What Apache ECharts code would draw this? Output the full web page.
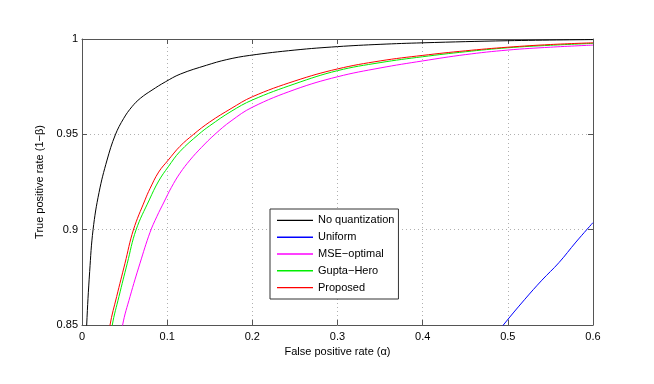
<!DOCTYPE html>
<html>
<head>
<meta charset="utf-8">
<script src="https://cdn.jsdelivr.net/npm/echarts@6/dist/echarts.min.js"></script>
<style>html,body{margin:0;padding:0;background:#fff}#c{width:654px;height:384px}</style>
</head>
<body>
<div id="c"></div>
<script>
var seriesNames = ['No quantization', 'Uniform', 'MSE\u2212optimal', 'Gupta\u2212Hero', 'Proposed'];
var seriesColors = ['#000000', '#0000ff', '#ff00ff', '#00ee00', '#ff0000'];

var noQuantFpr = [0.003, 0.0055, 0.009, 0.013, 0.02, 0.0294, 0.0391, 0.049, 0.0587, 0.0685, 0.0822, 0.0978, 0.1154, 0.146, 0.17, 0.197, 0.25, 0.3, 0.35, 0.4, 0.5, 0.6];
var noQuantTpr = [0.82, 0.85, 0.878, 0.90, 0.9195, 0.9365, 0.9497, 0.9584, 0.9645, 0.9689, 0.9732, 0.9775, 0.9816, 0.9862, 0.9892, 0.9914, 0.9942, 0.996, 0.9972, 0.998, 0.9991, 0.9997];

var uniformFpr = [0.49, 0.4947, 0.52, 0.54, 0.56, 0.58, 0.6];
var uniformTpr = [0.847, 0.85, 0.8635, 0.8735, 0.8827, 0.8935, 0.9037];

var mseFpr = [0.045, 0.0477, 0.0564, 0.0681, 0.0798, 0.088, 0.0963, 0.105, 0.115, 0.1268, 0.14, 0.156, 0.175, 0.2, 0.25, 0.3, 0.35, 0.4, 0.45, 0.5, 0.55, 0.6];
var mseTpr = [0.838, 0.85, 0.8649, 0.8824, 0.8985, 0.907, 0.9145, 0.9222, 0.9296, 0.9365, 0.943, 0.95, 0.957, 0.9642, 0.9735, 0.9802, 0.9848, 0.9885, 0.9918, 0.9942, 0.9957, 0.9968];

var guptaFpr = [0.033, 0.0356, 0.0434, 0.0532, 0.0634, 0.079, 0.09, 0.1013, 0.115, 0.137, 0.15, 0.175, 0.2, 0.25, 0.3, 0.35, 0.4, 0.45, 0.5, 0.55, 0.6];
var guptaTpr = [0.838, 0.85, 0.8649, 0.8824, 0.8998, 0.9156, 0.9255, 0.933, 0.941, 0.95, 0.9545, 0.962, 0.968, 0.9765, 0.9834, 0.9876, 0.9907, 0.9933, 0.9954, 0.9967, 0.9977];

var proposedFpr = [0.03, 0.0329, 0.0407, 0.0505, 0.0603, 0.074, 0.0798, 0.09, 0.1013, 0.115, 0.131, 0.15, 0.175, 0.2, 0.25, 0.3, 0.35, 0.4, 0.45, 0.5, 0.55, 0.6];
var proposedTpr = [0.838, 0.85, 0.8649, 0.8824, 0.8998, 0.9156, 0.9215, 0.9302, 0.9365, 0.9437, 0.95, 0.9565, 0.9635, 0.9697, 0.978, 0.9843, 0.9885, 0.9914, 0.9938, 0.9957, 0.9971, 0.998];

var xTicks = [0, 0.1, 0.2, 0.3, 0.4, 0.5, 0.6];
var yTicks = [0.85, 0.9, 0.95, 1];

function pairs(xs, ys) { return xs.map(function (x, i) { return [x, ys[i]]; }); }
var allX = [noQuantFpr, uniformFpr, mseFpr, guptaFpr, proposedFpr];
var allY = [noQuantTpr, uniformTpr, mseTpr, guptaTpr, proposedTpr];

var font = 'Liberation Sans, Arial, Helvetica, sans-serif';
var axisColor = '#555';
var gridLine = { show: true, lineStyle: { color: '#b0b0b0', type: [1, 3], width: 1 } };

var chart = echarts.init(document.getElementById('c'), null, { renderer: 'canvas' });
chart.setOption({
  animation: false,
  backgroundColor: '#fff',
  textStyle: { fontFamily: font },
  grid: { left: 82, right: 61, top: 39, bottom: 59, show: false },
  legend: {
    show: true,
    z: 20,
    data: seriesNames.map(function (n, i) {
      return { name: n, itemStyle: { color: seriesColors[i], borderWidth: 0, opacity: 1 } };
    }),
    icon: 'path://M0,0H36V1.4H0Z',
    symbolKeepAspect: true,
    orient: 'vertical',
    left: 270, top: 209,
    padding: [3, 4, 3, 7],
    backgroundColor: '#fff',
    borderColor: '#333', borderWidth: 1, borderRadius: 0,
    itemWidth: 36, itemHeight: 14, itemGap: 0,
    textStyle: { fontSize: 11, color: '#000', fontFamily: font, lineHeight: 16.8 }
  },
  xAxis: [{
    type: 'value', min: xTicks[0], max: xTicks[xTicks.length - 1], interval: 0.1,
    position: 'bottom',
    name: 'False positive rate (\u03b1)', nameLocation: 'middle', nameGap: 19,
    nameTextStyle: { fontSize: 11, color: '#000', fontFamily: font },
    axisLine: { show: true, onZero: false, lineStyle: { color: axisColor, width: 1 } },
    axisTick: { show: true, inside: true, length: 5, lineStyle: { color: axisColor } },
    axisLabel: { fontSize: 11, color: '#000', margin: 6, fontFamily: font },
    splitLine: gridLine
  }, {
    type: 'value', min: xTicks[0], max: xTicks[xTicks.length - 1], interval: 0.1,
    position: 'top',
    axisLine: { show: true, onZero: false, lineStyle: { color: axisColor, width: 1 } },
    axisTick: { show: true, inside: true, length: 5, lineStyle: { color: axisColor } },
    axisLabel: { show: false },
    splitLine: { show: false }
  }],
  yAxis: [{
    type: 'value', min: yTicks[0], max: yTicks[yTicks.length - 1], interval: 0.05,
    position: 'left',
    name: 'True positive rate (1\u2212\u03b2)', nameLocation: 'middle', nameGap: 35,
    nameTextStyle: { fontSize: 11, color: '#000', fontFamily: font },
    axisLine: { show: true, onZero: false, lineStyle: { color: axisColor, width: 1 } },
    axisTick: { show: true, inside: true, length: 5, lineStyle: { color: axisColor } },
    axisLabel: { fontSize: 11, color: '#000', margin: 4, fontFamily: font,
      formatter: function (v) { return String(Math.round(v * 100) / 100); } },
    splitLine: gridLine
  }, {
    type: 'value', min: yTicks[0], max: yTicks[yTicks.length - 1], interval: 0.05,
    position: 'right',
    axisLine: { show: true, onZero: false, lineStyle: { color: axisColor, width: 1 } },
    axisTick: { show: true, inside: true, length: 5, lineStyle: { color: axisColor } },
    axisLabel: { show: false },
    splitLine: { show: false }
  }],
  series: seriesNames.map(function (name, i) {
    return {
      name: name, type: 'line', xAxisIndex: 0, yAxisIndex: 0,
      data: pairs(allX[i], allY[i]),
      showSymbol: false, symbol: 'none', clip: true,
      smooth: 0.4,
      color: seriesColors[i],
      lineStyle: { color: seriesColors[i], width: 1 },
      z: 2 + i
    };
  })
});
</script>
</body>
</html>
